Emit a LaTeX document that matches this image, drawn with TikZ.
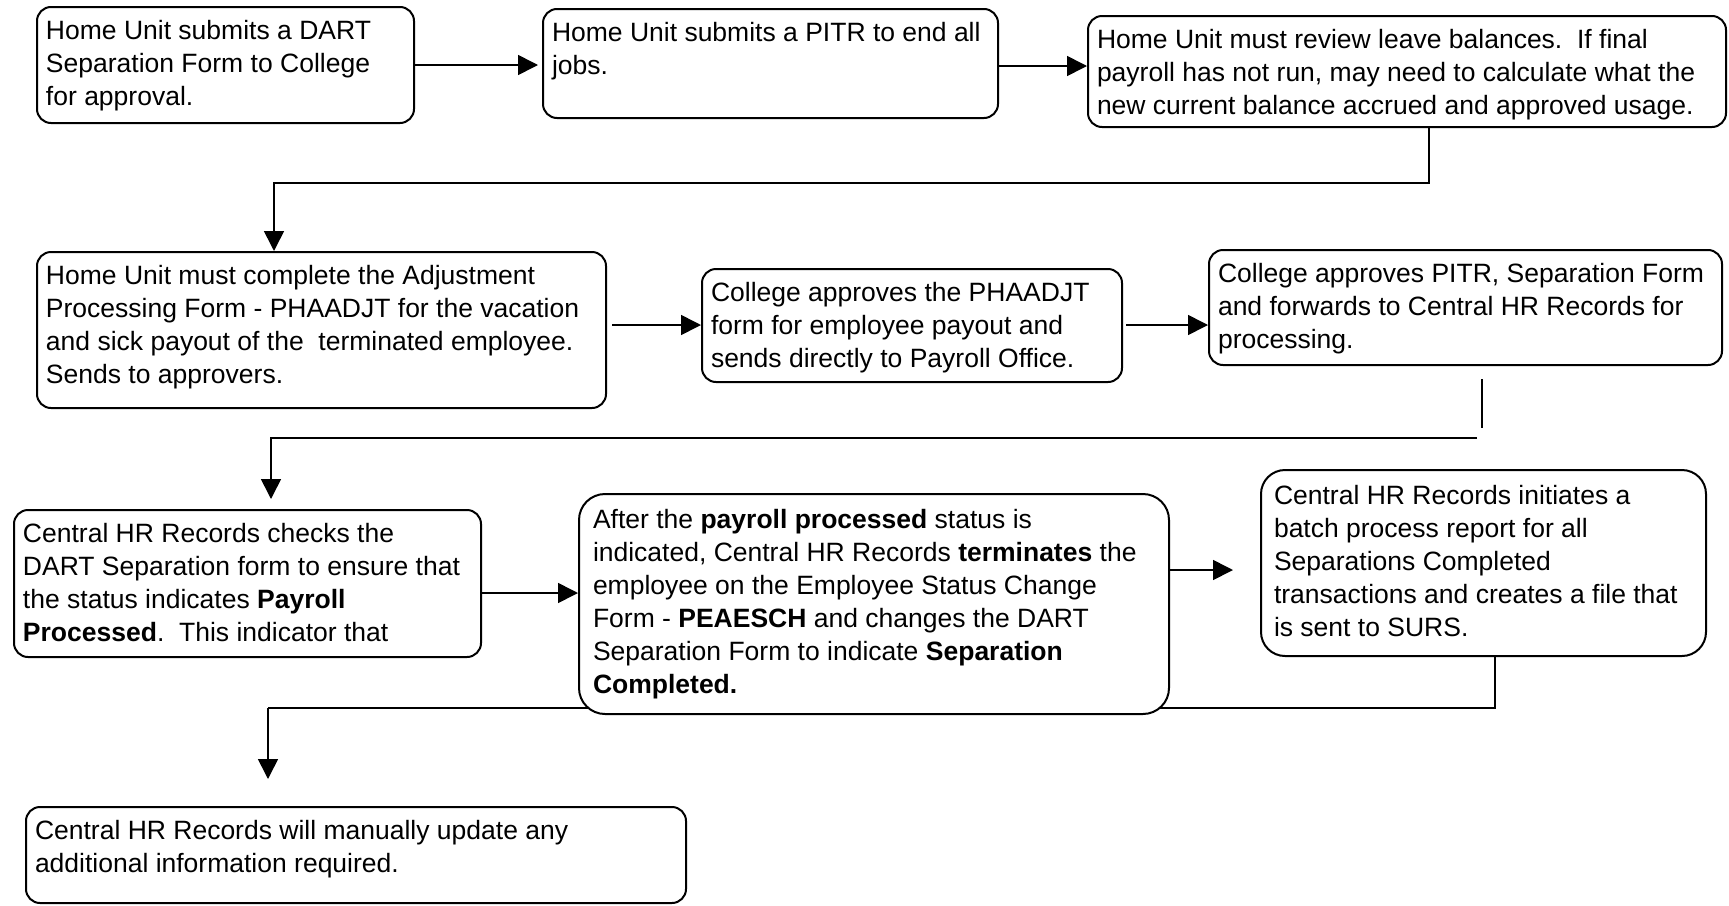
\documentclass[tikz,border=0pt]{standalone}
\usepackage{fontspec}
\setmainfont{Liberation Sans}
\usetikzlibrary{arrows.meta,backgrounds}
\newcommand{\boxtext}[3]{\parbox[c][#2][t]{#1}{\raggedright\vspace*{1.2pt}\strut #3}}

\begin{document}
\begin{tikzpicture}[x=0.5pt,y=-0.5pt]
	\def \rowoneht{65}
	\def \rowtwoht{325}
	\tikzstyle{proc-node}=[draw=black,line width=1pt,fill=white,rounded corners=7pt,anchor=north west,inner xsep=4.5pt,inner ysep=3.5pt,font=\fontsize{13.25}{16.5}\selectfont]
	\tikzstyle{wide-node}=[proc-node,rounded corners=13pt,inner xsep=7pt,inner ysep=4.5pt]
	\tikzstyle{flow-arrow}=[line width=0.8pt,-{Triangle[length=10pt,width=10pt]}]
	\tikzstyle{flow-line}=[line width=0.7pt]
	\useasboundingbox (0,0) rectangle (1729,905);
	% first row
	\node[proc-node] (sepform) at (36,6) {\boxtext{179.5pt}{51pt}{Home Unit submits a DART\\Separation Form to College\\for approval.}};
	\node[proc-node] (pitr) at (542,8) {\boxtext{218.5pt}{47.5pt}{Home Unit submits a PITR to end all\\jobs.}};
	\node[proc-node] (balance) at (1087,15) {\boxtext{310pt}{48.5pt}{Home Unit must review leave balances.\ \ If final\\payroll has not run, may need to calculate what the\\new current balance accrued and approved usage.}};
	% second row
	\node[proc-node] (adjust) at (36,251) {\boxtext{275.5pt}{71pt}{Home Unit must complete the Adjustment\\Processing Form - PHAADJT for the vacation\\and sick payout of the \ terminated employee.\\Sends to approvers.}};
	\node[proc-node] (payout) at (701,268) {\boxtext{201pt}{49.5pt}{College approves the PHAADJT\\form for employee payout and\\sends directly to Payroll Office.}};
	\node[proc-node] (records) at (1208,249) {\boxtext{247.5pt}{50.5pt}{College approves PITR, Separation Form\\and forwards to Central HR Records for\\processing.}};
	% third row
	\node[proc-node] (check) at (13,509) {\boxtext{224.5pt}{66.5pt}{Central HR Records checks the\\DART Separation form to ensure that\\the status indicates \textbf{Payroll}\\\textbf{Processed}.\ \ This indicator that}};
	\node[wide-node] (terminate) at (578,493) {\boxtext{281pt}{101pt}{After the \textbf{payroll processed} status is\\indicated, Central HR Records \textbf{terminates} the\\employee on the Employee Status Change\\Form - \textbf{PEAESCH} and changes the DART\\Separation Form to indicate \textbf{Separation}\\\textbf{Completed.}}};
	\node[wide-node,rounded corners=12pt,inner xsep=6.5pt,inner ysep=4.5pt] (surs) at (1260,469) {\boxtext{209.5pt}{84pt}{Central HR Records initiates a\\batch process report for all\\Separations Completed\\transactions and creates a file that\\is sent to SURS.}};
	% last row
	\node[proc-node] (update) at (25,806) {\boxtext{321pt}{41pt}{Central HR Records will manually update any\\additional information required.}};
	% arrows along the rows
	\draw[flow-arrow,shorten >=2pt] (sepform.east |- 0,\rowoneht) -- (pitr.west |- 0,\rowoneht);
	\draw[flow-arrow] (pitr.east |- 0,66) -- (balance.west |- 0,66);
	\draw[flow-arrow,shorten <=2.5pt] (adjust.east |- 0,\rowtwoht) -- (payout.west |- 0,\rowtwoht);
	\draw[flow-arrow,shorten <=1.5pt] (payout.east |- 0,\rowtwoht) -- (records.west |- 0,\rowtwoht);
	\draw[flow-arrow] (check.east |- 0,593) -- (terminate.west |- 0,593);
	\draw[flow-arrow,shorten >=13.5pt] (terminate.east |- 0,570) -- (surs.west |- 0,570);
	% row to row
	\coordinate (turn1) at (1429,183);
	\coordinate (turn2) at (274,183);
	\draw[flow-arrow] (balance.south -| turn1) -- (turn1) -- (turn2) -- (adjust.north -| turn2);
	\coordinate (tick1) at (1482,379);
	\coordinate (tick2) at (1482,428);
	\draw[flow-line] (tick1) -- (tick2);
	\coordinate (turn3) at (1477,438);
	\coordinate (turn4) at (271,438);
	\draw[flow-arrow,shorten >=5pt] (turn3) -- (turn4) -- (check.north -| turn4);
	\coordinate (turn5) at (1495,708);
	\coordinate (turn6) at (268,708);
	\begin{pgfonlayer}{background}
		\draw[flow-line] (surs.south -| turn5) -- (turn5) -- (turn6);
	\end{pgfonlayer}
	\draw[flow-arrow,shorten >=13.5pt] (turn6) -- (update.north -| turn6);
\end{tikzpicture}
\end{document}
